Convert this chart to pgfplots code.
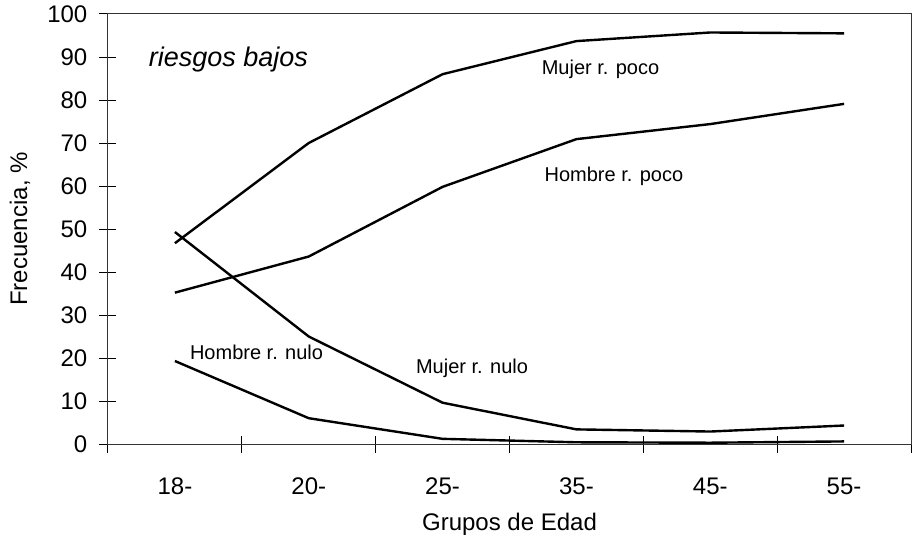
\documentclass[border=0pt]{standalone}
\usepackage{fontspec}
\setmainfont{Liberation Sans}
\usepackage{pgfplots}
\pgfplotsset{compat=1.18}

\begin{document}
\begin{tikzpicture}
\useasboundingbox (-108pt,-100pt) rectangle (804pt,444pt);
\begin{axis}[
  at={(0,0)}, anchor=south west,
  scale only axis, width=803pt, height=430pt,
  xmin=-0.5, xmax=5.5, ymin=0, ymax=100,
  axis line style={black!80, line width=1pt},
  xtick={0,...,5},
  xticklabels={18-,20-,25-,35-,45-,55-},
  minor xtick={-0.5,0.5,...,5.5},
  every major x tick/.style={draw=none},
  ytick={0,10,...,100},
  xtick pos=bottom, ytick pos=left,
  tick align=center,
  major tick length=17pt, minor tick length=17pt,
  tick style={black, line width=1pt},
  /pgf/number format/assume math mode=true,
  tick label style={font=\fontsize{24}{28}\selectfont},
  yticklabel style={anchor=east, inner xsep=0pt, xshift=-12pt},
  xticklabel style={anchor=base, yshift=-42pt},
  xlabel={Grupos de Edad},
  ylabel={Frecuencia, \%},
  every axis x label/.style={at={(rel axis cs:0.5,0)}, yshift=-80pt, anchor=center, font=\fontsize{24}{28}\selectfont},
  every axis y label/.style={at={(rel axis cs:0,0.5)}, xshift=-88pt, rotate=90, anchor=center, font=\fontsize{24}{28}\selectfont},
]
% Mujer r. poco
\addplot[black, line width=2.4pt] coordinates {(0,46.7) (1,70.0) (2,86.0) (3,93.7) (4,95.7) (5,95.5)};
% Hombre r. poco
\addplot[black, line width=2.4pt] coordinates {(0,35.2) (1,43.6) (2,59.8) (3,70.9) (4,74.4) (5,79.1)};
% Mujer r. nulo
\addplot[black, line width=2.4pt] coordinates {(0,49.3) (1,25.0) (2,9.6) (3,3.4) (4,2.9) (5,4.3)};
% Hombre r. nulo
\addplot[black, line width=2.4pt] coordinates {(0,19.3) (1,6.0) (2,1.2) (3,0.4) (4,0.3) (5,0.6)};

\node[font=\itshape\fontsize{27}{30}\selectfont] at (axis cs:0.40,89.5) {riesgos bajos};
\node[font=\fontsize{20}{24}\selectfont] at (axis cs:3.18,87.2) {Mujer r. poco};
\node[font=\fontsize{20}{24}\selectfont] at (axis cs:3.28,62.3) {Hombre r. poco};
\node[font=\fontsize{20}{24}\selectfont] at (axis cs:0.61,21.4) {Hombre r. nulo};
\node[font=\fontsize{20}{24}\selectfont] at (axis cs:2.22,17.7) {Mujer r. nulo};
\end{axis}
\end{tikzpicture}
\end{document}
